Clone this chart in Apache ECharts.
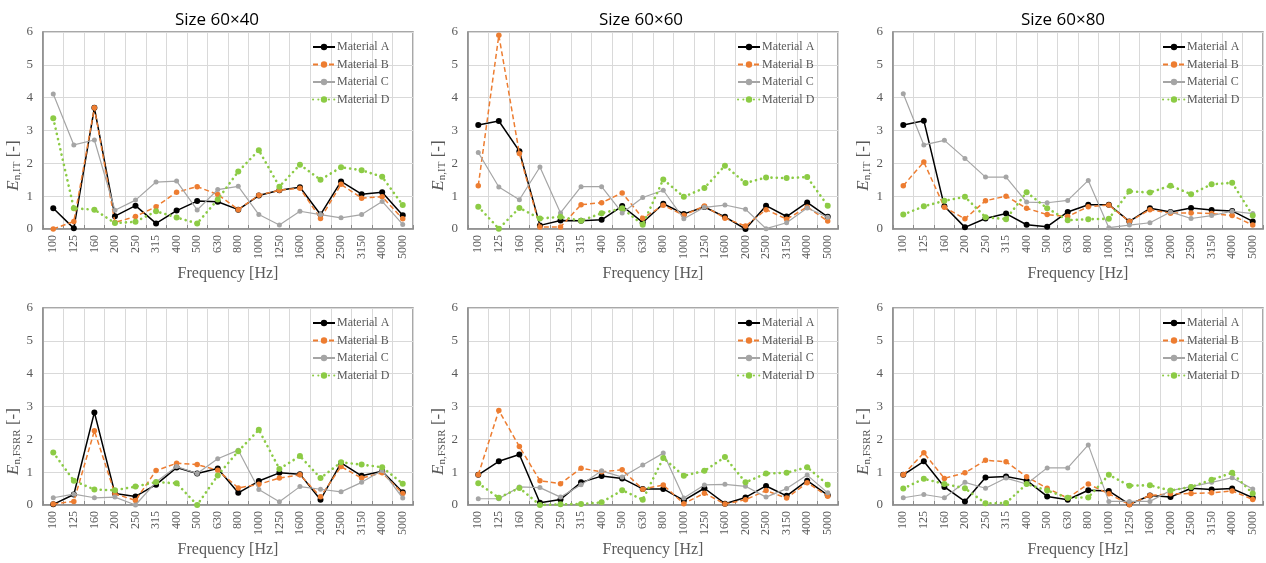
<!DOCTYPE html>
<html>
<head>
<meta charset="utf-8">
<script src="https://cdn.jsdelivr.net/npm/echarts@6/dist/echarts.min.js"></script>
<style>html,body{margin:0;padding:0;background:#fff;}#c{width:1266px;height:563px;}</style>
</head>
<body>
<div id="c"></div>
<script>
// ---- data ----
const freqs = ['100','125','160','200','250','315','400','500','630','800','1000','1250','1600','2000','2500','3150','4000','5000'];
const panelTitles = ['Size 60×40', 'Size 60×60', 'Size 60×80'];
const seriesNames = ['Material A', 'Material B', 'Material C', 'Material D'];
const yTicks = [0, 1, 2, 3, 4, 5, 6];

// E_n,IT  (top row)
const it40A = [0.63,0.02,3.69,0.39,0.71,0.17,0.56,0.85,0.83,0.59,1.02,1.18,1.27,0.44,1.45,1.06,1.12,0.42];
const it40B = [0.0,0.23,3.69,0.20,0.38,0.68,1.12,1.29,1.05,0.59,1.03,1.18,1.24,0.32,1.36,0.94,0.98,0.31];
const it40C = [4.11,2.56,2.71,0.57,0.88,1.43,1.46,0.58,1.20,1.30,0.44,0.12,0.54,0.44,0.34,0.44,0.84,0.14];
const it40D = [3.37,0.63,0.59,0.18,0.22,0.54,0.35,0.17,0.90,1.75,2.40,1.29,1.96,1.50,1.88,1.79,1.59,0.73];

const it60A = [3.17,3.29,2.37,0.11,0.26,0.25,0.28,0.70,0.20,0.77,0.46,0.67,0.37,0.0,0.71,0.38,0.81,0.37];
const it60B = [1.32,5.90,2.30,0.06,0.06,0.74,0.80,1.10,0.33,0.72,0.42,0.70,0.33,0.09,0.59,0.30,0.67,0.24];
const it60C = [2.33,1.28,0.89,1.89,0.49,1.29,1.29,0.49,0.96,1.18,0.31,0.66,0.73,0.60,0.01,0.19,0.64,0.36];
const it60D = [0.68,0.01,0.64,0.32,0.37,0.25,0.48,0.63,0.13,1.51,0.98,1.25,1.93,1.40,1.57,1.55,1.58,0.71];

const it80A = [3.17,3.30,0.69,0.05,0.32,0.47,0.13,0.07,0.52,0.74,0.74,0.23,0.63,0.52,0.64,0.58,0.55,0.23];
const it80B = [1.32,2.04,0.66,0.31,0.86,1.00,0.63,0.44,0.38,0.68,0.73,0.23,0.59,0.48,0.49,0.47,0.41,0.12];
const it80C = [4.12,2.56,2.70,2.15,1.58,1.58,0.82,0.80,0.87,1.48,0.04,0.12,0.19,0.52,0.32,0.41,0.54,0.47];
const it80D = [0.44,0.69,0.86,0.98,0.36,0.30,1.12,0.63,0.27,0.30,0.31,1.15,1.11,1.32,1.06,1.36,1.41,0.41];

// E_n,FSRR (bottom row)
const fs40A = [0.02,0.32,2.82,0.35,0.26,0.62,1.14,0.96,1.11,0.37,0.73,0.98,0.94,0.16,1.28,0.89,1.03,0.39];
const fs40B = [0.03,0.11,2.26,0.34,0.14,1.05,1.27,1.23,1.06,0.52,0.63,0.82,0.92,0.25,1.17,0.82,0.98,0.35];
const fs40C = [0.22,0.33,0.22,0.24,0.0,0.70,1.17,0.96,1.41,1.67,0.47,0.10,0.56,0.48,0.40,0.69,1.05,0.21];
const fs40D = [1.60,0.74,0.47,0.45,0.56,0.70,0.66,0.0,0.90,1.64,2.29,1.10,1.49,0.82,1.30,1.23,1.15,0.65];

const fs60A = [0.92,1.33,1.54,0.07,0.17,0.69,0.88,0.81,0.49,0.49,0.14,0.51,0.04,0.23,0.58,0.28,0.74,0.30];
const fs60B = [0.92,2.88,1.78,0.74,0.65,1.12,1.01,1.07,0.48,0.61,0.04,0.36,0.03,0.16,0.44,0.21,0.68,0.27];
const fs60C = [0.19,0.19,0.55,0.53,0.24,0.62,1.04,0.85,1.22,1.58,0.21,0.61,0.63,0.57,0.24,0.50,0.91,0.37];
const fs60D = [0.66,0.22,0.52,0.0,0.02,0.03,0.08,0.45,0.16,1.43,0.89,1.04,1.46,0.69,0.96,0.98,1.15,0.62];

const fs80A = [0.92,1.33,0.55,0.11,0.84,0.87,0.75,0.26,0.16,0.45,0.43,0.02,0.29,0.24,0.51,0.47,0.50,0.22];
const fs80B = [0.92,1.59,0.81,0.98,1.36,1.32,0.86,0.51,0.21,0.64,0.34,0.01,0.29,0.34,0.35,0.37,0.43,0.17];
const fs80C = [0.22,0.32,0.22,0.69,0.51,0.82,0.64,1.13,1.13,1.83,0.11,0.11,0.11,0.44,0.56,0.69,0.83,0.49];
const fs80D = [0.50,0.80,0.64,0.51,0.05,0.06,0.64,0.44,0.22,0.23,0.92,0.59,0.60,0.44,0.55,0.77,0.98,0.35];

const panelData = [
  [it40A, it40B, it40C, it40D], [it60A, it60B, it60C, it60D], [it80A, it80B, it80C, it80D],
  [fs40A, fs40B, fs40C, fs40D], [fs60A, fs60B, fs60C, fs60D], [fs80A, fs80B, fs80C, fs80D]
];
const yNames = ['{i|E}{s|n,IT}{n| [-]}', '{i|E}{s|n,FSRR}{n| [-]}'];

// ---- layout / style ----
const colLeft = [43, 468, 893];
const rowTop = [32, 308];
const plotW = 370, plotH = 197;
const serif = '"Liberation Serif", "DejaVu Serif", serif';
const txtGray = '#595959';
const frame = '#8c8c8c';
const gridLine = '#d9d9d9';

const styles = [
  { color: '#000000', lineStyle: { width: 1.5, type: 'solid' }, symbolSize: 6 },
  { color: '#ED7D31', lineStyle: { width: 1.5, type: [5, 3] }, symbolSize: 5.5 },
  { color: '#A5A5A5', lineStyle: { width: 1.2, type: 'solid' }, symbolSize: 5 },
  { color: '#8CCB45', lineStyle: { width: 2.6, type: [0.1, 5.2], cap: 'round' }, symbolSize: 6 }
];

const grids = [], xAxes = [], yAxes = [], series = [], legends = [], graphics = [];
for (let p = 0; p < 6; p++) {
  const r = Math.floor(p / 3), c = p % 3;
  grids.push({
    left: colLeft[c], top: rowTop[r], width: plotW, height: plotH,
    show: true, borderColor: frame, borderWidth: 1.5, backgroundColor: '#fff'
  });
  xAxes.push({
    type: 'category', gridIndex: p, data: freqs, boundaryGap: true,
    name: 'Frequency [Hz]', nameLocation: 'middle', nameGap: 37,
    nameTextStyle: { fontFamily: serif, fontSize: 16, color: txtGray },
    axisLine: { show: true, lineStyle: { color: frame, width: 1.5 } },
    axisTick: { show: true, inside: true, length: 4, interval: 0, lineStyle: { color: frame } },
    axisLabel: { interval: 0, rotate: 90, fontFamily: serif, fontSize: 12, color: txtGray, margin: 6 },
    splitLine: { show: true, interval: 0, lineStyle: { color: gridLine, width: 1 } }
  });
  yAxes.push({
    type: 'value', gridIndex: p, min: yTicks[0], max: yTicks[yTicks.length - 1], interval: 1,
    name: yNames[r], nameLocation: 'middle', nameGap: 19, nameRotate: 90,
    nameTextStyle: {
      color: txtGray, fontFamily: serif, padding: [0, 70, 0, 0],
      rich: {
        i: { fontFamily: serif, fontStyle: 'italic', fontSize: 17, color: txtGray, lineHeight: 18, verticalAlign: 'top' },
        s: { fontFamily: serif, fontSize: 11, color: txtGray, lineHeight: 12, padding: [10, 0, 0, 0], verticalAlign: 'bottom' },
        n: { fontFamily: serif, fontSize: 17, color: txtGray, lineHeight: 18, verticalAlign: 'top' }
      }
    },
    axisLine: { show: true, lineStyle: { color: frame, width: 1.5 } },
    axisTick: { show: false },
    axisLabel: { fontFamily: serif, fontSize: 13, color: txtGray, margin: 10 },
    splitLine: { show: true, lineStyle: { color: gridLine, width: 1 } }
  });
  for (let s = 0; s < 4; s++) {
    series.push({
      type: 'line', name: seriesNames[s], xAxisIndex: p, yAxisIndex: p,
      data: panelData[p][s], symbol: 'circle', symbolSize: styles[s].symbolSize,
      itemStyle: { color: styles[s].color },
      lineStyle: Object.assign({ color: styles[s].color }, styles[s].lineStyle),
      z: 2 + s, animation: false
    });
  }
  legends.push({
    orient: 'vertical', left: colLeft[c] + 269, top: rowTop[r] + 8,
    itemWidth: 22, itemHeight: 8, itemGap: 3.5, padding: 0,
    selectedMode: false,
    textStyle: { fontFamily: serif, fontSize: 12, color: txtGray, lineHeight: 14, padding: [0, 0, 0, -3] },
    data: seriesNames.slice()
  });
}
const titleCenters = [217, 641, 1063];
for (let c = 0; c < 3; c++) {
  graphics.push({
    type: 'text', x: titleCenters[c], y: 20,
    style: { text: panelTitles[c], align: 'center', verticalAlign: 'middle',
      fontFamily: '"Open Sans", "Noto Sans", sans-serif', fontSize: 17, fill: '#000' }
  });
}

const chart = echarts.init(document.getElementById('c'), null, { renderer: 'canvas' });
chart.setOption({
  animation: false,
  backgroundColor: '#fff',
  grid: grids, xAxis: xAxes, yAxis: yAxes, series: series, legend: legends, graphic: graphics
});
</script>
</body>
</html>
